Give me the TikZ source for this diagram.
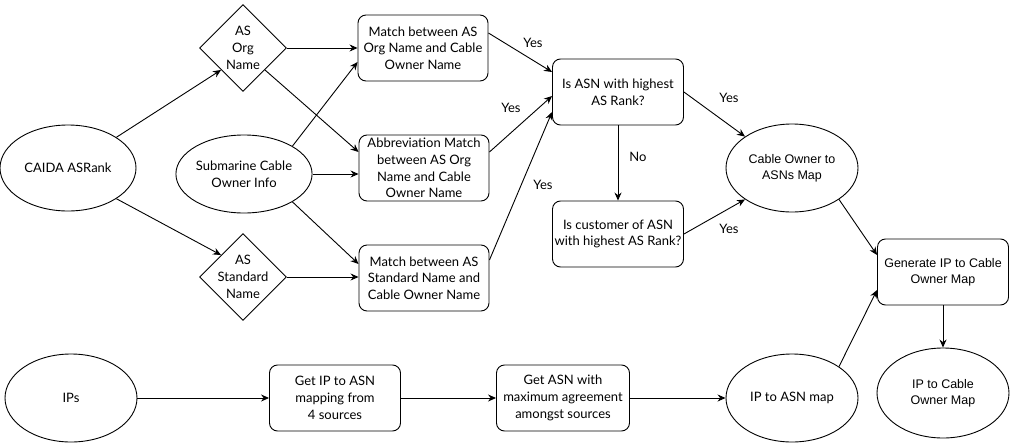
\documentclass[tikz,border=0pt]{standalone}
\usepackage{fontspec}
\setmainfont{Lato}
\newfontfamily\helv{Liberation Sans}
\usetikzlibrary{shapes.geometric,arrows.meta}
\begin{document}
\begin{tikzpicture}[x=1pt,y=-1pt,
  line width=0.9pt,
  txt/.style={font=\fontsize{13}{16.7}\selectfont, align=center},
  htxt/.style={font=\helv\fontsize{12.5}{16}\selectfont, align=center},
  ell/.style={draw, ellipse, inner sep=0pt, minimum width=132pt, minimum height=86pt},
  box/.style={draw, rounded corners=8pt, inner sep=0pt, minimum width=130pt, minimum height=66pt},
  dia/.style={draw, diamond, inner sep=0pt, minimum width=87pt, minimum height=87pt},
  lbl/.style={font=\fontsize{13}{16}\selectfont, inner sep=0pt},
  arr/.style={-{Stealth[length=8pt,width=7pt]}}
]
\useasboundingbox (0,0) rectangle (1012,442);

% nodes
\node[ell, txt, minimum width=136pt] (caida) at (68,168) {CAIDA ASRank};
\node[ell, txt, minimum height=78pt] (sub) at (244,174) {Submarine Cable\\Owner Info};
\node[dia] (org) at (243,48) {};
\node[txt] (orgt) at (org) {AS\\Org\\Name};
\node[dia] (std) at (243,277) {};
\node[txt] (stdt) at (std) {AS\\Standard\\Name};

\node[box, txt] (morg) at (423,48) {Match between AS\\Org Name and Cable\\Owner Name};
\node[box, txt] (abbr) at (424,168) {Abbreviation Match\\between AS Org\\Name and Cable\\Owner Name};
\node[box, txt] (mstd) at (424,278) {Match between AS\\Standard Name and\\Cable Owner Name};

\node[box, txt, minimum width=131pt] (isasn) at (618,92) {Is ASN with highest\\AS Rank?};
\node[box, txt, minimum width=131pt] (iscust) at (618,234) {Is customer of ASN\\with highest AS Rank?};

\node[ell, htxt, minimum height=88pt] (cable) at (792,168) {Cable Owner to\\ASNs Map};
\node[box, htxt, minimum width=131pt] (gen) at (943,272) {Generate IP to Cable\\Owner Map};
\node[ell, htxt, minimum height=90pt] (ipcable) at (943,393) {IP to Cable\\Owner Map};

\node[ell, txt, minimum height=88pt] (ips) at (71,398) {IPs};
\node[box, txt, minimum width=131pt] (getip) at (335,398) {Get IP to ASN\\mapping from\\4 sources};
\node[box, txt, minimum width=133pt] (getasn) at (563,398) {Get ASN with\\maximum agreement\\amongst sources};
\node[ell, txt, minimum height=88pt] (ipasn) at (792,398) {IP to ASN map};

% connectors
\draw[arr] (caida.north east) -- (org.south west);
\draw[arr] (caida.south east) -- (std.north west);
\draw[arr] (org.east) -- (org.east -| morg.west);
\draw[arr] (org.south east) -- ([yshift=16pt]abbr.west);
\draw[arr] (sub.north east) -- ([yshift=-14pt]morg.west);
\draw[arr] (sub.east) -- (sub.east -| abbr.west);
\draw[arr] (sub.south east) -- ([yshift=14pt]mstd.west);
\draw[arr] (std.east) -- (std.east -| mstd.west);

\draw[arr] ([yshift=15pt]morg.east) -- ([yshift=20pt]isasn.west);
\node[lbl] (y1) at (533,43) {Yes};
\draw[arr] ([yshift=16pt]abbr.east) -- ([yshift=-4pt]isasn.west);
\node[lbl] (y2) at (511,108) {Yes};
\draw[arr] ([yshift=18pt]mstd.east) -- ([yshift=-20pt]isasn.west);
\node[lbl] (y3) at (543,185) {Yes};
\draw[arr] (isasn) -- (iscust);
\node[lbl] (no) at (638,157) {No};
\draw[arr] (isasn.east) -- (cable.north west);
\node[lbl] (y4) at (729,98) {Yes};
\draw[arr] (iscust.east) -- (cable.south west);
\node[lbl] (y5) at (729,229) {Yes};

\draw[arr] (cable.south east) -- ([yshift=17pt]gen.west);
\draw[arr] (ipasn.north east) -- ([yshift=-18pt]gen.west);
\draw[arr] (gen) -- (ipcable);

\draw[arr] (ips) -- (getip);
\draw[arr] (getip) -- (getasn);
\draw[arr] (getasn) -- (ipasn);
\end{tikzpicture}
\end{document}
